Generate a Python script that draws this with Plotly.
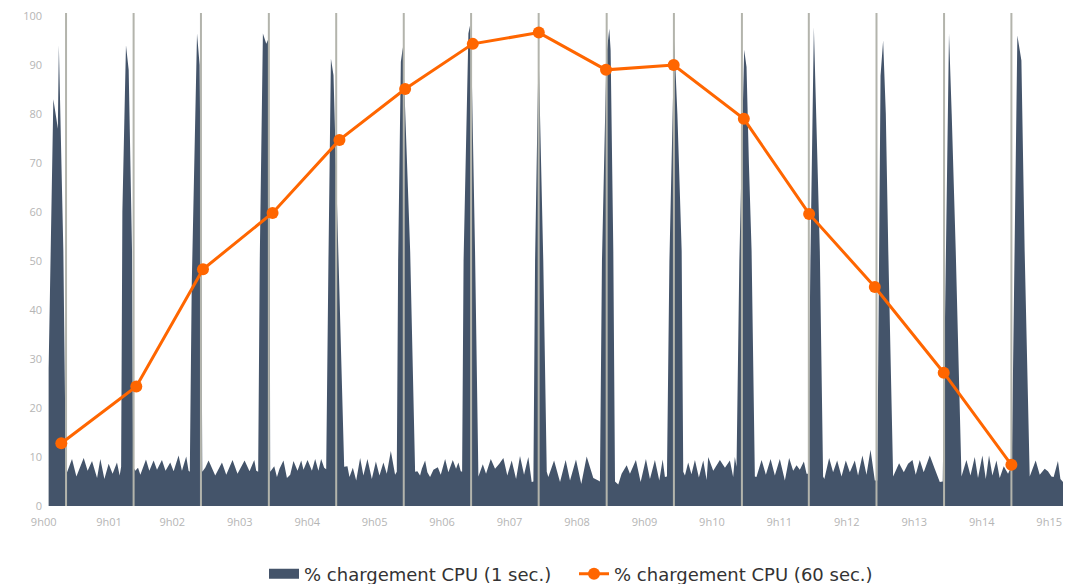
import plotly.graph_objects as go

# ---- data (x in seconds after 9h00:00) ----
cpu1_t = [10.0, 14.2, 16.9, 18.2, 19.1, 23.1, 25.3,
          26.4, 30.8, 34.7, 41.2, 44.7, 48.6, 53.1, 56.0, 59.6, 63.4, 66.9, 70.8, 73.2,
          74.5, 75.6, 78.8, 81.2, 84.2, 85.2,
          87.1, 89.5, 91.6, 96.6, 99.6, 103.4, 106.4, 110.8, 114.0, 118.2, 121.2, 125.6, 128.6, 132.4, 134.5,
          135.6, 137.3, 142.0, 144.3, 145.8, 146.7,
          149.3, 152.3, 158.2, 164.2, 168.0, 173.6, 178.0, 184.3, 188.7, 192.9, 194.7,
          196.4, 197.8, 200.6, 203.6, 205.3, 206.7, 207.1,
          210.7, 213.1, 215.4, 218.9, 222.0, 224.9, 227.8, 231.4, 234.7, 236.7, 240.3, 244.2, 247.1, 250.0, 252.4, 255.1,
          256.9, 258.9, 261.1, 263.4, 267.8, 272.9,
          275.8, 277.6, 280.6, 283.6, 287.1, 290.0, 293.6, 297.5, 301.1, 304.3, 307.8, 310.8, 314.4, 318.2,
          319.7, 320.9, 323.3, 325.1, 327.1, 331.6, 336.0,
          338.0, 340.4, 342.0, 344.9, 346.9, 349.3, 352.3, 356.2, 358.8, 362.7, 365.6, 369.5, 372.4, 374.5, 376.6,
          377.8, 379.1, 383.4, 384.9, 386.4, 389.3, 392.3,
          396.2, 399.1, 403.3, 407.1, 410.9, 414.5, 418.0, 421.9, 425.8, 429.3, 432.9, 436.7, 439.7,
          441.2, 442.7, 445.8, 450.0, 453.1,
          454.5, 459.6, 464.9, 469.9, 473.8, 479.1, 483.8, 488.6, 494.5, 498.9,
          500.4, 502.2, 506.2, 508.7, 509.9, 512.3, 513.8,
          516.7, 519.7, 524.2, 527.1, 532.4, 536.6, 541.3, 544.9, 549.3, 553.2, 556.2, 558.2,
          560.0, 562.2, 566.5, 569.3, 573.1, 574.5,
          576.0, 578.9, 581.8, 584.9, 588.4, 592.3, 595.3, 596.7, 601.2, 607.1, 611.6, 616.0, 618.9, 620.4,
          621.9, 624.4, 628.7, 630.8, 632.9, 635.3, 638.2,
          639.6, 644.2, 648.0, 652.2, 656.0, 660.4, 664.9, 668.7, 672.3, 675.3, 678.2, 681.8, 684.2,
          685.6, 687.6, 690.7, 693.3, 696.0, 698.9,
          700.0, 704.3, 707.8, 711.4, 715.3, 719.1, 722.7, 727.1, 730.0, 733.9, 737.5, 741.1, 744.9,
          747.1, 748.4, 750.0, 752.3, 754.7, 756.9, 761.2,
          766.5, 770.7, 774.5, 778.4, 781.3, 784.9, 788.4, 793.8, 798.2, 802.7,
          805.3, 808.0, 810.9, 813.3, 816.9, 822.0,
          826.4, 830.0, 833.8, 836.7, 840.6, 843.6, 846.5, 849.5, 853.1, 856.0, 859.6, 863.4, 865.5,
          866.7, 868.9, 871.7, 875.3, 878.2, 882.7,
          888.0, 891.6, 896.0, 898.9, 902.0, 904.0, 907.8, 910.0, 912.3]

cpu1_v = [28, 83, 79, 77, 94, 52, 7,
          6.9, 9.6, 6.0, 9.8, 7.2, 9.2, 5.7, 9.6, 5.5, 8.6, 6.6, 8.9, 6.2,
          8, 60, 94, 89, 52, 8,
          7.2, 7.8, 6.4, 9.5, 7.2, 9.3, 7.4, 9.4, 7.2, 8.9, 7.1, 10.3, 7.2, 10.1, 7.2,
          7, 45, 96.4, 90, 50, 7,
          7.8, 9.3, 6.2, 8.9, 6.4, 9.4, 6.6, 9.3, 7.1, 9.4, 7.2,
          7, 50, 96.4, 94.3, 95.2, 50, 7,
          8.1, 5.9, 7.6, 9.3, 5.7, 6.4, 9.2, 7.2, 9.3, 7.4, 9.4, 7.2, 9.6, 7.2, 9.6, 7.8,
          7.5, 50, 91.3, 87.9, 50, 8,
          8.1, 5.9, 7.8, 5.2, 9.8, 6.2, 9.6, 5.5, 9.1, 6.2, 8.9, 6.6, 11.2, 6.4,
          7, 50, 90.6, 93.6, 81, 52, 7,
          7.1, 6.2, 7.6, 9.3, 6.9, 5.9, 7.4, 7.9, 6.4, 9.6, 6.9, 9.4, 7.6, 8.9, 7.1,
          7, 50, 96.4, 98.1, 88, 52, 6,
          8.5, 6.6, 9.6, 7.6, 8.6, 9.8, 6.2, 9.3, 5.5, 10.2, 6.4, 10.0, 4.9,
          5, 50, 93, 50, 7,
          5.9, 9.3, 4.9, 9.4, 5.2, 9.5, 4.5, 10.1, 5.7, 5.2,
          5, 50, 92, 97.4, 93, 52, 5,
          4.4, 6.6, 8.3, 6.6, 9.4, 4.9, 9.6, 5.5, 9.4, 5.2, 9.5, 5.9,
          6, 50, 95, 80, 52, 7,
          6.2, 8.9, 6.5, 9.4, 5.8, 9.3, 5.3, 10, 7.2, 9.4, 7.8, 9.3, 5.9, 10,
          8, 50, 93.1, 89.6, 70, 52, 6,
          5.9, 9.4, 6.4, 9.6, 6.2, 9.6, 5.2, 9.8, 7.2, 8.3, 7.4, 9.1, 6.6,
          6.6, 50, 97.7, 75, 52, 6,
          5.5, 9.8, 6.9, 9.3, 6.0, 9.3, 6.9, 9.3, 6.2, 10.3, 6.4, 11.5, 5.2,
          5.2, 50, 87.8, 95, 80, 52, 6,
          8.7, 6.9, 8.6, 9.4, 6.4, 9.4, 6.9, 10.3, 7.6, 4.9,
          5, 50, 96.4, 80, 52, 6,
          9.4, 6.2, 10, 5.7, 10.3, 5.5, 10.3, 6.2, 9.3, 5.7, 8.1, 6.6, 7.6,
          7.6, 50, 96, 90.9, 52, 6,
          9.3, 6.4, 7.6, 7.1, 6.0, 5.9, 9.2, 5.5, 4.9]

cpu60_t = [21.3, 88.0, 147.3, 209.2, 268.7, 327.1, 387.3, 446.0,
           505.8, 566.0, 628.4, 686.5, 744.9, 806.2, 866.4]
cpu60_v = [12.8, 24.4, 48.3, 59.8, 74.7, 85.1, 94.3, 96.6,
           89.0, 90.0, 79.0, 59.6, 44.7, 27.2, 8.4]

grid_t = [25.5, 85.6, 145.5, 205.9, 265.8, 325.9, 385.8, 445.9,
          506.4, 566.2, 626.7, 686.2, 746.4, 806.5, 866.4]

tick_t = [5.6, 63.7, 120, 180, 240, 300, 360, 420, 480, 540, 600, 660, 720, 780, 840, 900]
tick_labels = ["9h00", "9h01", "9h02", "9h03", "9h04", "9h05", "9h06", "9h07",
               "9h08", "9h09", "9h10", "9h11", "9h12", "9h13", "9h14", "9h15"]

Y_TOP = 100.6
AREA_COLOR = "#44546A"
ORANGE = "#FF6600"
NAME_1S = "% chargement CPU (1 sec.)"
NAME_60S = "% chargement CPU (60 sec.)"

fig = go.Figure()

fig.add_trace(go.Scatter(
    x=cpu1_t, y=cpu1_v, mode="lines", fill="tozeroy",
    line=dict(width=0, color=AREA_COLOR), fillcolor=AREA_COLOR,
    name=NAME_1S, showlegend=False, hoverinfo="skip", legendgroup="a"))

gx, gy = [], []
for t in grid_t:
    gx += [t, t, None]
    gy += [0, Y_TOP, None]
fig.add_trace(go.Scatter(
    x=gx, y=gy, mode="lines", line=dict(width=2, color="#b3b4ac"),
    showlegend=False, hoverinfo="skip"))

# legend entry for the area series (square swatch)
fig.add_trace(go.Scatter(
    x=[None], y=[None], mode="lines", line=dict(width=17, color=AREA_COLOR),
    name=NAME_1S, legendgroup="a"))

fig.add_trace(go.Scatter(
    x=cpu60_t, y=cpu60_v, mode="lines+markers",
    line=dict(width=3, color=ORANGE), marker=dict(size=12, color=ORANGE),
    name=NAME_60S))

fig.update_layout(
    width=1074, height=584,
    margin=dict(l=43, r=11, t=13, b=78, autoexpand=False),
    plot_bgcolor="white", paper_bgcolor="white",
    font=dict(family="Open Sans, Lato, sans-serif", color="#b5b5b5", size=11),
    showlegend=True,
    legend=dict(orientation="h", xref="container", x=264 / 1074, xanchor="left",
                yref="container", y=0.017, yanchor="middle",
                entrywidth=265, entrywidthmode="pixels",
                font=dict(size=18, color="#333333", family="DejaVu Sans, sans-serif"),
                traceorder="normal"),
    xaxis=dict(range=[5, 912.3], tickvals=tick_t, ticktext=tick_labels,
               showgrid=False, zeroline=False, showline=False, automargin=False,
               ticks="outside", ticklen=6, tickcolor="rgba(0,0,0,0)",
               tickfont=dict(size=11, color="#b5b5b5")),
    yaxis=dict(range=[0, Y_TOP], tickvals=list(range(0, 101, 10)),
               showgrid=False, zeroline=False, showline=False, automargin=False,
               tickfont=dict(size=11, color="#b5b5b5")),
)

fig.write_html("out.html", config={"displayModeBar": False},
               post_script="document.body.style.margin='0';document.body.style.overflow='hidden';")
